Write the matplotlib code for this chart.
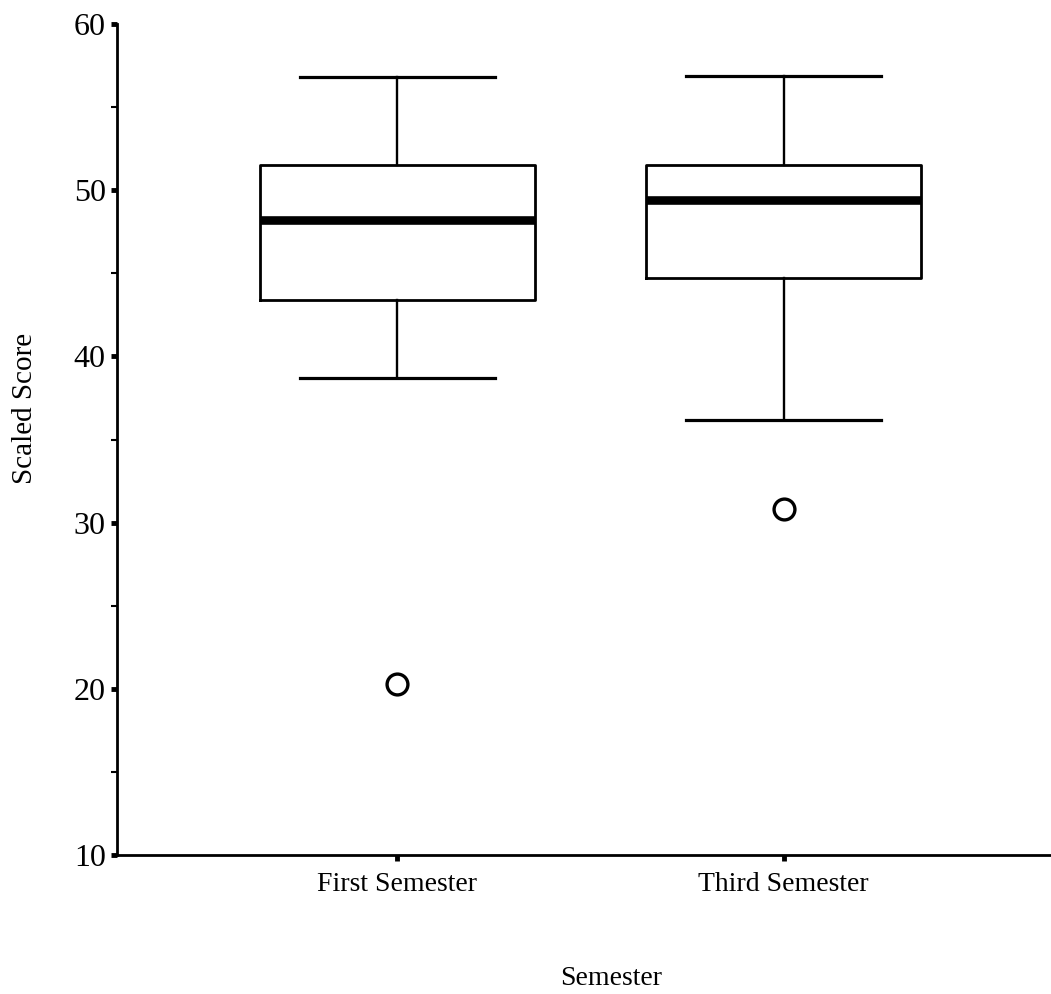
import matplotlib
matplotlib.use("Agg")
import matplotlib.pyplot as plt
from matplotlib.ticker import MultipleLocator

plt.rcParams["font.family"] = ["Liberation Serif", "DejaVu Serif"]

# values
semesters = ["First Semester", "Third Semester"]
whisker_low = [38.7, 36.2]
q1 = [43.4, 44.7]
median = [48.2, 49.4]
q3 = [51.5, 51.5]
whisker_high = [56.8, 56.9]
outliers = [[20.3], [30.8]]

stats = []
for i, name in enumerate(semesters):
    stats.append({
        "label": name,
        "whislo": whisker_low[i],
        "q1": q1[i],
        "med": median[i],
        "q3": q3[i],
        "whishi": whisker_high[i],
        "fliers": outliers[i],
    })

fig = plt.figure(figsize=(10.51, 9.94), dpi=100)
ax = fig.add_axes([0.1113, 0.1398, 0.888, 0.836])

ax.bxp(
    stats,
    positions=[1, 2],
    widths=0.712,
    capwidths=0.505,
    boxprops=dict(color="black", linewidth=2.0),
    whiskerprops=dict(color="black", linewidth=1.7),
    capprops=dict(color="black", linewidth=2.3),
    medianprops=dict(color="black", linewidth=6.2),
    flierprops=dict(marker="o", markersize=15, markerfacecolor="none",
                    markeredgecolor="black", markeredgewidth=2.4),
)

ax.set_xlim(0.275, 2.69)
ax.set_ylim(10, 60)
ax.yaxis.set_major_locator(MultipleLocator(10))
ax.yaxis.set_minor_locator(MultipleLocator(5))

for side in ("top", "right"):
    ax.spines[side].set_visible(False)
for side in ("left", "bottom"):
    ax.spines[side].set_linewidth(2.0)

ax.tick_params(axis="both", which="major", length=4, width=3.5, pad=4)
ax.tick_params(axis="y", which="major", labelsize=23)
ax.tick_params(axis="x", labelsize=20, pad=8)
ax.tick_params(axis="y", which="minor", length=4, width=1.5)

ax.set_xlabel("Semester", fontsize=20, va="center")
ax.xaxis.set_label_coords(0.53, -0.148)
ax.set_ylabel("Scaled Score", fontsize=21, va="center")
ax.yaxis.set_label_coords(-0.0986, 0.538)

fig.savefig("out.png", dpi=100, facecolor="white")
